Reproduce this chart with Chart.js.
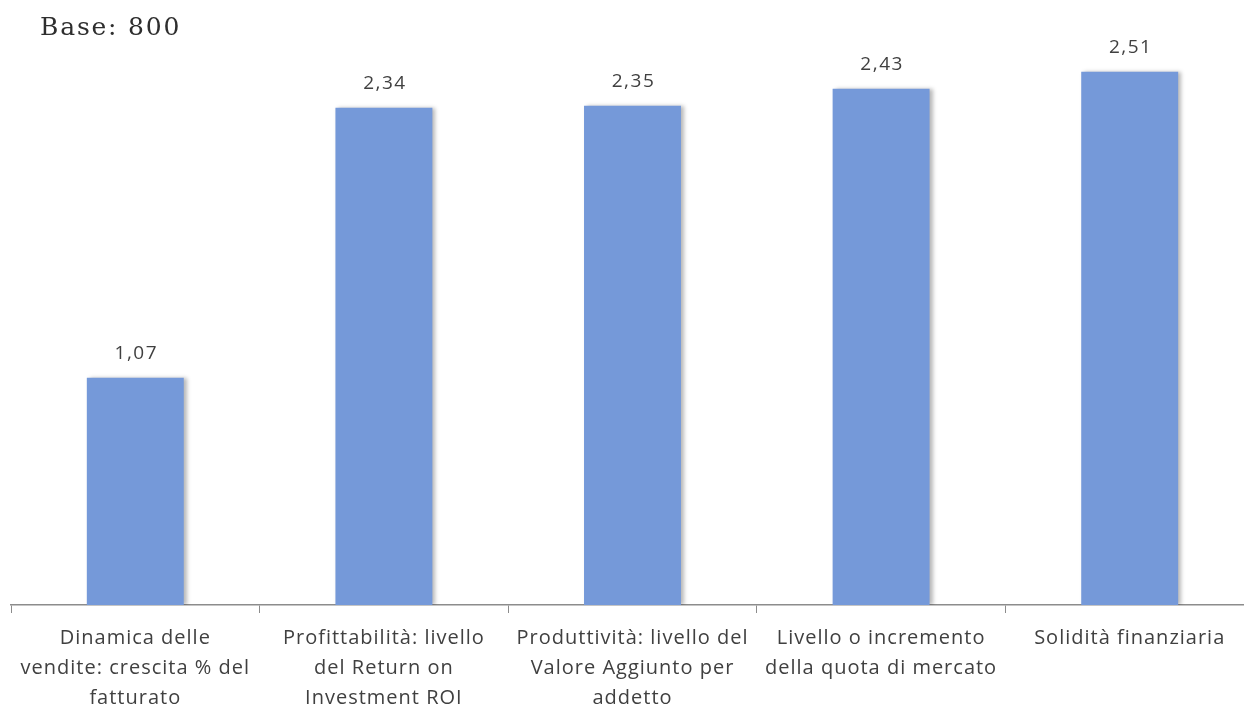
<!DOCTYPE html>
<html>
<head>
<meta charset="utf-8">
<script src="https://cdn.jsdelivr.net/npm/chart.js@4.4.1/dist/chart.umd.min.js"></script>
<style>
  html, body { margin: 0; padding: 0; background: #fff; overflow: hidden; }
  #wrap { width: 1244px; height: 715px; overflow: hidden; position: relative; }
  #wrap canvas { position: absolute; left: 0; top: 0; }
</style>
</head>
<body>
<div id="wrap">
  <canvas id="chart" width="1256" height="715" style="width:1256px;height:715px"></canvas>
</div>
<script>
const categories = [
  ['Dinamica delle', 'vendite: crescita % del', 'fatturato'],
  ['Profittabilità: livello', 'del Return on', 'Investment ROI'],
  ['Produttività: livello del', 'Valore Aggiunto per', 'addetto'],
  ['Livello o incremento', 'della quota di mercato'],
  ['Solidità finanziaria']
];
const values = [1.07, 2.34, 2.35, 2.43, 2.51];
const baseLabel = 'Base: 800';

const textColor = '#404040';
const barColor = '#7599d9';

// wider tracking for all text drawn by the chart
const tracking = {
  id: 'tracking',
  beforeDraw(chart) {
    chart.ctx.letterSpacing = '1px';
  }
};

// soft grey drop shadow to the right of each bar
const barShadow = {
  id: 'barShadow',
  beforeDatasetsDraw(chart) {
    const ctx = chart.ctx;
    ctx.save();
    ctx.shadowColor = 'rgba(0,0,0,0.28)';
    ctx.shadowBlur = 4;
    ctx.shadowOffsetX = 3;
    ctx.shadowOffsetY = 0;
  },
  afterDatasetsDraw(chart) {
    chart.ctx.restore();
  }
};

// value above each bar, italian decimal comma
const valueLabels = {
  id: 'valueLabels',
  afterDatasetsDraw(chart) {
    const ctx = chart.ctx;
    const meta = chart.getDatasetMeta(0);
    ctx.save();
    ctx.font = '19px "Open Sans", "DejaVu Sans", sans-serif';
    ctx.letterSpacing = '1.5px';
    ctx.fillStyle = textColor;
    ctx.textAlign = 'center';
    ctx.textBaseline = 'middle';
    meta.data.forEach((bar, i) => {
      const txt = values[i].toFixed(2).replace('.', ',');
      ctx.fillText(txt, bar.x + 1, bar.y - 24);
    });
    ctx.restore();
  }
};

const baseTitle = {
  id: 'baseTitle',
  afterDraw(chart) {
    const ctx = chart.ctx;
    ctx.save();
    ctx.font = '25px "DejaVu Serif", "Liberation Serif", serif';
    ctx.letterSpacing = '1.8px';
    ctx.fillStyle = '#2e2e2e';
    ctx.textAlign = 'left';
    ctx.textBaseline = 'middle';
    ctx.fillText(baseLabel, 40, 28);
    ctx.restore();
  }
};

new Chart(document.getElementById('chart'), {
  type: 'bar',
  data: {
    labels: categories,
    datasets: [{
      data: values,
      backgroundColor: barColor,
      borderWidth: 0,
      barPercentage: 0.39,
      categoryPercentage: 1
    }]
  },
  options: {
    responsive: false,
    animation: false,
    layout: { padding: { left: 11, right: 2, top: 10, bottom: -8 } },
    plugins: {
      legend: { display: false },
      tooltip: { enabled: false }
    },
    scales: {
      x: {
        grid: {
          drawOnChartArea: false,
          drawTicks: true,
          tickLength: 8,
          color: '#8c8c8c'
        },
        border: { display: true, color: '#8c8c8c', width: 1.5 },
        ticks: {
          color: textColor,
          maxRotation: 0,
          autoSkip: false,
          padding: 10,
          font: { family: '"Open Sans", "DejaVu Sans", sans-serif', size: 20, lineHeight: 1.5 }
        }
      },
      y: {
        display: false,
        min: 0,
        max: 2.8
      }
    }
  },
  plugins: [tracking, barShadow, valueLabels, baseTitle]
});
</script>
</body>
</html>
